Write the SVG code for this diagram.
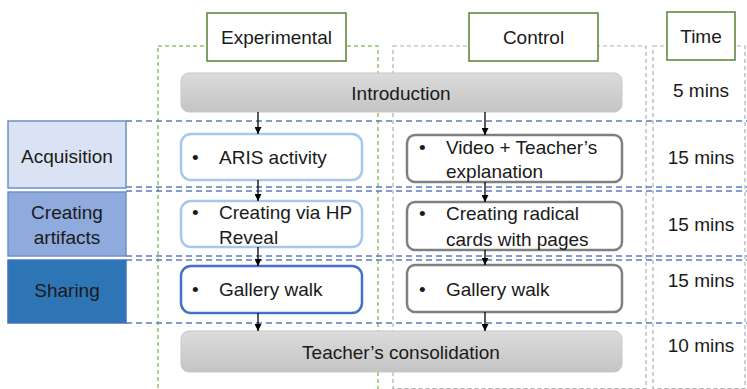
<svg xmlns="http://www.w3.org/2000/svg" width="747" height="389" viewBox="0 0 747 389">
<defs>
<linearGradient id="gbar" x1="0" y1="0" x2="0" y2="1">
<stop offset="0" stop-color="#dcdcdc"/>
<stop offset="1" stop-color="#c4c4c4"/>
</linearGradient>
<marker id="ah" viewBox="0 0 10 10" refX="10" refY="5" markerWidth="7" markerHeight="7" markerUnits="userSpaceOnUse" orient="auto">
<path d="M0,0 L10,5 L0,10 z" fill="#000"/>
</marker>
<style>
text{font-family:"Liberation Sans",Arial,sans-serif;font-size:19px;fill:#1a1a1a}
.c{text-anchor:middle}
.hdr{fill:#fff;stroke:#548235;stroke-width:1.5}
.gcol{fill:none;stroke:#8cc46a;stroke-width:1.5;stroke-dasharray:4 3}
.col{fill:none;stroke:#b0b0b0;stroke-width:1.2;stroke-dasharray:4 3}
.hl{stroke:#5f7bbd;stroke-width:1.5;stroke-dasharray:6 4;fill:none}
.bar{fill:url(#gbar);stroke:#c8c8c8;stroke-width:1}
.eb{fill:#fff;stroke:#a9c7ea;stroke-width:2.5}
.eb2{fill:#fff;stroke:#4472c4;stroke-width:2.5}
.cb{fill:#fff;stroke:#7f7f7f;stroke-width:2.5}
.conn line{stroke:#000;stroke-width:1.3;marker-end:url(#ah)}
</style>
</defs>
<rect width="747" height="389" fill="#fff"/>

<!-- columns -->
<rect class="gcol" x="158" y="46" width="220" height="350"/>
<rect class="col" x="393" y="46" width="253" height="342.5"/>
<rect class="col" x="653" y="46" width="92" height="342.5"/>

<!-- horizontal row separators -->
<g id="separators">
<line class="hl" x1="126" y1="121" x2="747" y2="121"/>
<line class="hl" x1="126" y1="187" x2="747" y2="187"/>
<line class="hl" x1="126" y1="191" x2="747" y2="191"/>
<line class="hl" x1="126" y1="256" x2="747" y2="256"/>
<line class="hl" x1="126" y1="260" x2="747" y2="260"/>
<line class="hl" x1="126" y1="323" x2="747" y2="323"/>
</g>

<!-- headers -->
<g id="hdr-experimental"><rect class="hdr" x="207" y="13" width="139" height="48"/><text class="c" x="276.5" y="44">Experimental</text></g>
<g id="hdr-control"><rect class="hdr" x="469" y="13" width="129" height="48"/><text class="c" x="533.5" y="44">Control</text></g>
<g id="hdr-time"><rect class="hdr" x="667" y="12" width="68" height="48"/><text class="c" x="701" y="43">Time</text></g>

<!-- row labels -->
<g id="row-acquisition"><rect x="8" y="121" width="118" height="67" fill="#dae3f3" stroke="#6f8fc9" stroke-width="1.5"/><text class="c" x="67" y="163">Acquisition</text></g>
<g id="row-creating"><rect x="8" y="192" width="118" height="64" fill="#8faadc" stroke="#6f8fc9" stroke-width="1.5"/><text class="c" x="67" y="219">Creating</text><text class="c" x="67" y="244">artifacts</text></g>
<g id="row-sharing"><rect x="8" y="260" width="118" height="63" fill="#2e75b6" stroke="#4472c4" stroke-width="1.5"/><text class="c" x="67" y="297">Sharing</text></g>

<!-- bars -->
<g id="introduction"><rect class="bar" x="181" y="73" width="441" height="39" rx="8"/><text class="c" x="401" y="100">Introduction</text></g>
<g id="consolidation"><rect class="bar" x="181" y="331" width="441" height="41" rx="8"/><text class="c" x="401" y="359">Teacher’s consolidation</text></g>

<!-- experimental boxes -->
<g id="exp-aris"><rect class="eb" x="181" y="134" width="181" height="46" rx="10"/><text x="192" y="164">•</text><text x="219" y="164">ARIS activity</text></g>
<g id="exp-hp"><rect class="eb" x="181" y="201" width="181" height="46" rx="10"/><text x="192" y="219">•</text><text x="219" y="219">Creating via HP</text><text x="219" y="244">Reveal</text></g>
<g id="exp-gallery"><rect class="eb2" x="181" y="266" width="181" height="47" rx="10"/><text x="192" y="296">•</text><text x="219" y="296">Gallery walk</text></g>

<!-- control boxes -->
<g id="ctrl-video"><rect class="cb" x="407" y="135" width="215" height="47" rx="8"/><text x="419" y="154">•</text><text x="446" y="154">Video + Teacher’s</text><text x="446" y="178">explanation</text></g>
<g id="ctrl-cards"><rect class="cb" x="407" y="202" width="215" height="48" rx="8"/><text x="419" y="220">•</text><text x="446" y="220">Creating radical</text><text x="446" y="246">cards with pages</text></g>
<g id="ctrl-gallery"><rect class="cb" x="407" y="265" width="215" height="47" rx="8"/><text x="419" y="296">•</text><text x="446" y="296">Gallery walk</text></g>

<!-- times -->
<g id="times">
<text class="c" x="701" y="97">5 mins</text>
<text class="c" x="701" y="164">15 mins</text>
<text class="c" x="701" y="231">15 mins</text>
<text class="c" x="701" y="287">15 mins</text>
<text class="c" x="701" y="352">10 mins</text>
</g>

<!-- connectors -->
<g class="conn" id="connectors">
<line x1="258" y1="112" x2="258" y2="134"/>
<line x1="258" y1="180" x2="258" y2="201"/>
<line x1="258" y1="247" x2="258" y2="266"/>
<line x1="258" y1="313" x2="258" y2="331"/>
<line x1="485" y1="112" x2="485" y2="135"/>
<line x1="485" y1="182" x2="485" y2="202"/>
<line x1="485" y1="250" x2="485" y2="265"/>
<line x1="485" y1="312" x2="485" y2="331"/>
</g>
</svg>
